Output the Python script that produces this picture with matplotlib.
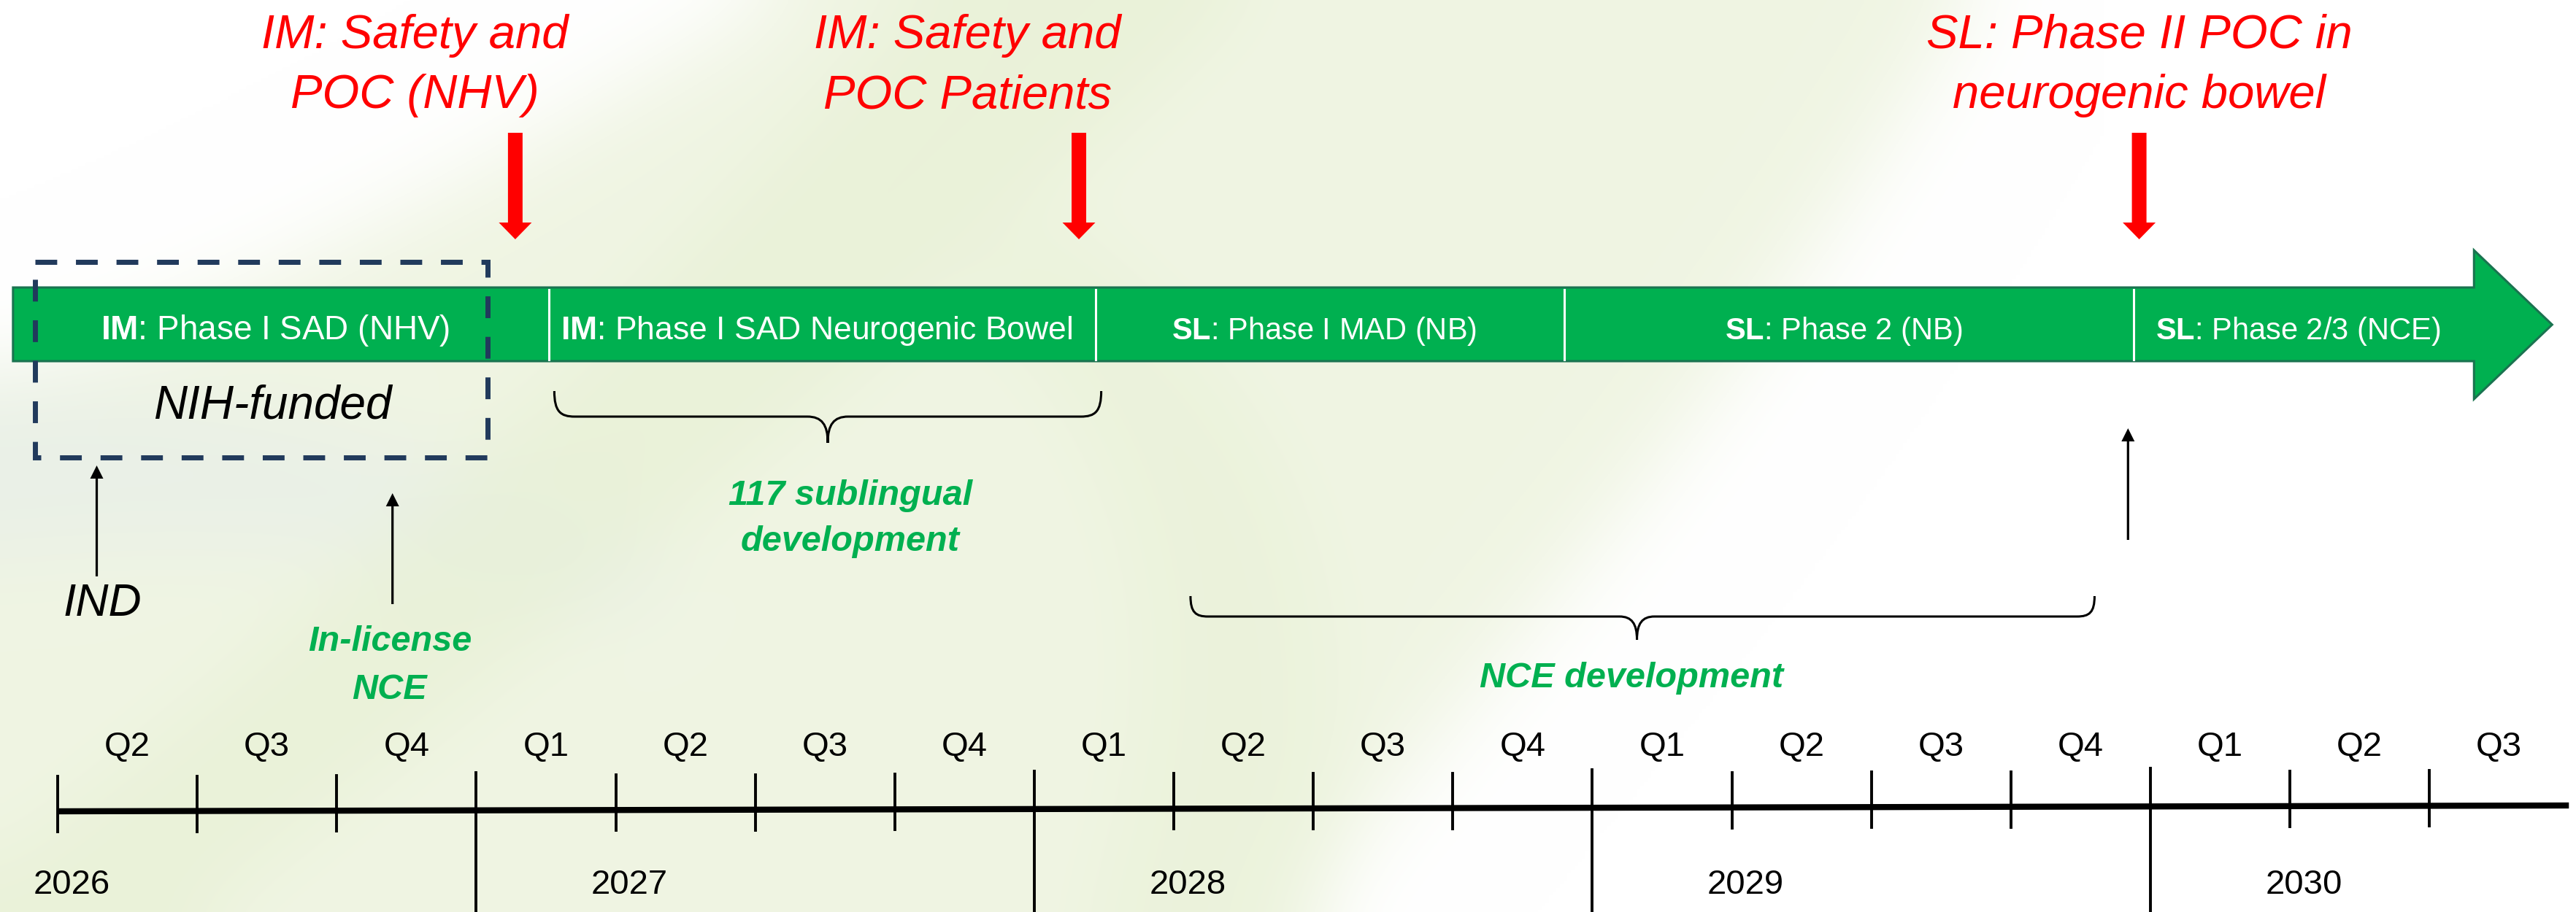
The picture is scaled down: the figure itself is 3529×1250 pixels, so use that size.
import numpy as np
import matplotlib.pyplot as plt
from matplotlib.patches import Polygon, PathPatch, Rectangle
from matplotlib.path import Path

plt.rcParams['font.family'] = ['Liberation Sans', 'DejaVu Sans']
plt.rcParams['mathtext.fontset'] = 'custom'
plt.rcParams['mathtext.rm'] = 'Liberation Sans'
plt.rcParams['mathtext.bf'] = 'Liberation Sans:bold'

# timeline (years as decimals)
years = [2026, 2027, 2028, 2029, 2030]
quarter_labels = ["Q2", "Q3", "Q4",
                  "Q1", "Q2", "Q3", "Q4",
                  "Q1", "Q2", "Q3", "Q4",
                  "Q1", "Q2", "Q3", "Q4",
                  "Q1", "Q2", "Q3"]
axis_start = 2026.25
axis_end = 2030.75

# program phases on the green arrow
phase_prefix = ["IM", "IM", "SL", "SL", "SL"]
phase_text = ["Phase I SAD (NHV)", "Phase I SAD Neurogenic Bowel",
              "Phase I MAD (NB)", "Phase 2 (NB)", "Phase 2/3 (NCE)"]
phase_start = [2026.17, 2027.13, 2028.11, 2028.95, 2029.97]
phase_end = [2027.13, 2028.11, 2028.95, 2029.97, 2030.58]
arrow_tip = 2030.72

# red milestones
milestone_text = ["IM: Safety and\nPOC (NHV)",
                  "IM: Safety and\nPOC Patients",
                  "SL: Phase II POC in\nneurogenic bowel"]
milestone_at = [2027.07, 2028.08, 2029.98]
milestone_text_at = [2026.89, 2027.88, 2029.98]

# black event arrows
event_text = ["IND", "In-license\nNCE", ""]
event_at = [2026.32, 2026.85, 2029.96]

# braces
brace_text = ["117 sublingual\ndevelopment", "NCE development"]
brace_from = [2027.14, 2028.28]
brace_to = [2028.12, 2029.90]
brace_tip = [2027.63, 2029.08]
brace_label_at = [2027.67, 2029.07]

# NIH funded period
nih_from, nih_to = 2026.21, 2027.02

GREEN = '#00B050'
RED = '#FF0000'
NAVY = '#213A5C'

# layout, y in pixels from top
AXIS_Y0, AXIS_Y1 = 1112, 1104
BAR_TOP, BAR_BOT = 394, 495
HEAD_TOP, HEAD_BOT = 343, 547
YPX = 764.5  # pixels per year, used for widths across x
phase_size = [33, 32, 30, 30, 30]


def axis_y(t):
    return AXIS_Y0 + (AXIS_Y1 - AXIS_Y0) * (t - axis_start) / (axis_end - axis_start)


fig = plt.figure(figsize=(35.3, 12.5), dpi=100)

# soft background wash (decoration only)
bg = fig.add_axes([0, 0, 1, 1])
bg.set_xlim(0, 3530)
bg.set_ylim(1250, 0)
bg.axis('off')
C4, LT, MV = Path.CURVE4, Path.LINETO, Path.MOVETO
H, W, CELL = 250, 706, 5
gx, gy = np.meshgrid((np.arange(W) + 0.5) * CELL, (np.arange(H) + 0.5) * CELL)
pts = np.column_stack([gx.ravel(), gy.ravel()])


def soft_mask(path, s):
    m = path.contains_points(pts).reshape(H, W).astype(float)
    r = int(3 * s)
    k = np.exp(-0.5 * (np.arange(-r, r + 1) / s) ** 2)
    k /= k.sum()
    p = np.pad(m, r, mode='edge')
    q = sum(k[i] * p[:, i:i + W] for i in range(2 * r + 1))
    q = sum(k[i] * q[i:i + H, :] for i in range(2 * r + 1))
    return q


outer = Path([(1060, 0), (800, 150), (400, 400), (0, 520), (0, 1250), (1780, 1250),
              (2050, 900), (2350, 600), (2700, 0), (1060, 0)],
             [MV, C4, C4, C4, LT, LT, C4, C4, C4, LT])
inner = Path([(1250, 0), (900, 400), (450, 850), (0, 1180), (0, 1250), (280, 1250),
              (650, 950), (1150, 560), (1700, 0), (1250, 0)],
             [MV, C4, C4, C4, LT, LT, C4, C4, C4, LT])
curl = Path([(1450, 300), (1700, 500), (1900, 700), (1800, 1250), (1500, 1250),
             (1650, 800), (1500, 550), (1300, 380), (1450, 300)],
            [MV, C4, C4, C4, LT, C4, C4, C4, LT])
left = Path([(0, 540), (300, 540), (600, 600), (900, 760), (900, 840),
             (600, 760), (300, 720), (0, 760), (0, 540)],
            [MV, C4, C4, C4, LT, C4, C4, C4, LT])
img = np.ones((H, W, 3))
for path, col, amt, s in [(outer, (0.94, 0.96, 0.89), 1.0, 12),
                          (left, (0.90, 0.93, 0.92), 0.6, 12),
                          (inner, (0.90, 0.94, 0.82), 0.55, 10),
                          (curl, (0.90, 0.94, 0.82), 0.4, 10)]:
    a = (amt * soft_mask(path, s))[..., None]
    img = img * (1 - a) + np.array(col) * a
bg.imshow(img, extent=(0, 3530, 1250, 0), interpolation='bilinear', aspect='auto')

ax = fig.add_axes([0, 0, 1, 1])
ax.set_xlim(axis_start - 79 / YPX, axis_start + 3451 / YPX)
ax.set_ylim(1250, 0)
ax.axis('off')

# time axis
ax.plot([axis_start, axis_end], [axis_y(axis_start), axis_y(axis_end)], color='black', lw=6,
        solid_capstyle='butt', zorder=3)
for i, lab in enumerate(quarter_labels):
    edge = axis_start + 0.25 * i
    ay = axis_y(edge)
    if abs(edge - round(edge)) < 1e-6:
        ax.plot([edge, edge], [ay - 52, 1250], color='black', lw=2.8, zorder=3)
    else:
        ax.plot([edge, edge], [ay - 48, ay + 28], color='black', lw=2.8, zorder=3)
    ax.text(edge + 0.125, 1036, lab, fontsize=34, ha='center', va='baseline')
for y in years:
    ax.text(y + 0.275, 1225, str(y), fontsize=34, ha='center', va='baseline')

# green phase arrow
x0, xb = phase_start[0], phase_end[-1]
verts = [(x0, BAR_TOP), (xb, BAR_TOP), (xb, HEAD_TOP), (arrow_tip, (HEAD_TOP + HEAD_BOT) / 2),
         (xb, HEAD_BOT), (xb, BAR_BOT), (x0, BAR_BOT)]
ax.add_patch(Polygon(verts, closed=True, fc=GREEN, ec='#1A7350', lw=2.2, zorder=4))
for s in phase_start[1:]:
    ax.plot([s, s], [BAR_TOP + 3, BAR_BOT - 2], color='white', lw=2.2, zorder=5)
for p, t, s, e, fs in zip(phase_prefix, phase_text, phase_start, phase_end, phase_size):
    ax.text((s + e) / 2 - 0.01, 465, rf"$\mathbf{{{p}}}$: {t}", color='white', fontsize=fs,
            ha='center', va='baseline', zorder=6)

# NIH box
ax.add_patch(Rectangle((nih_from, 359), nih_to - nih_from, 627 - 359, fill=False,
                       ec=NAVY, lw=5, linestyle=(0, (4.3, 3.7)), zorder=7))
ax.text((nih_from + nih_to) / 2 + 0.02, 556, "NIH-funded", fontsize=46, style='italic',
        ha='center', va='center', zorder=7)

# red milestones
for txt, at, tat in zip(milestone_text, milestone_at, milestone_text_at):
    ax.arrow(at, 182, 0, 146, width=20 / YPX, head_width=45 / YPX, head_length=23,
             length_includes_head=True, fc=RED, ec='none', zorder=6)
    ax.text(tat, 90, txt, color=RED, fontsize=47, style='italic', ha='center',
            va='center', linespacing=1.47)

# black event arrows
event_base = [790, 828, 740]
event_tipy = [638, 676, 587]
for txt, at, b, tp in zip(event_text, event_at, event_base, event_tipy):
    ax.arrow(at, b, 0, tp - b, width=3.2 / YPX, head_width=18 / YPX, head_length=18,
             length_includes_head=True, fc='black', ec='none', zorder=6)
ax.text(event_at[0] + 0.01, 828, event_text[0], fontsize=45, style='italic',
        ha='center', va='center')
ax.text(event_at[1] - 0.005, 912, event_text[1], fontsize=35, style='italic',
        weight='bold', color=GREEN, ha='center', va='center', linespacing=1.6)


# braces
def brace(x0, x1, xt, ytop, ymid, ybot, r):
    rx = r / YPX
    v = [(x0, ytop),
         (x0, ytop + 0.8 * (ymid - ytop)), (x0 + 0.3 * rx, ymid), (x0 + rx, ymid),
         (xt - rx, ymid),
         (xt - 0.3 * rx, ymid), (xt, ymid + 0.3 * (ybot - ymid)), (xt, ybot),
         (xt, ymid + 0.3 * (ybot - ymid)), (xt + 0.3 * rx, ymid), (xt + rx, ymid),
         (x1 - rx, ymid),
         (x1 - 0.3 * rx, ymid), (x1, ytop + 0.8 * (ymid - ytop)), (x1, ytop)]
    c = [MV, C4, C4, C4, LT, C4, C4, C4, C4, C4, C4, LT, C4, C4, C4]
    ax.add_patch(PathPatch(Path(v, c), fill=False, ec='black', lw=2.2, zorder=5))


brace(brace_from[0], brace_to[0], brace_tip[0], 536, 571, 607, 28)
brace(brace_from[1], brace_to[1], brace_tip[1], 817, 845, 877, 24)
ax.text(brace_label_at[0], 711, brace_text[0], fontsize=35, style='italic', weight='bold',
        color=GREEN, ha='center', va='center', linespacing=1.5)
ax.text(brace_label_at[1], 930, brace_text[1], fontsize=35, style='italic', weight='bold',
        color=GREEN, ha='center', va='center')

fig.savefig('out.png', dpi=100, facecolor='white')
